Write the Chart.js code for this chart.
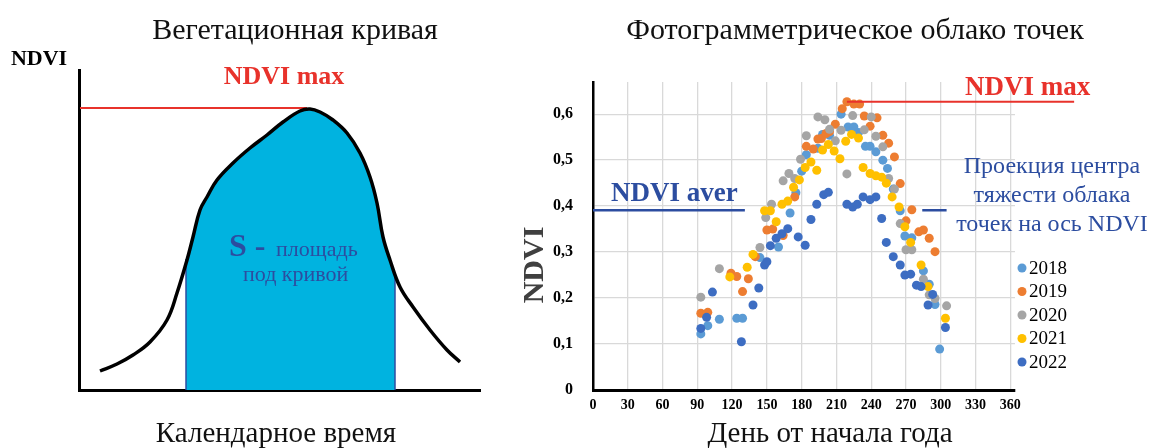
<!DOCTYPE html>
<html>
<head>
<meta charset="utf-8">
<script src="https://cdn.jsdelivr.net/npm/chart.js@4.4.1/dist/chart.umd.min.js"></script>
<style>
  html, body { margin: 0; padding: 0; background: #fff; }
  #wrap { position: relative; width: 1155px; height: 448px; overflow: hidden; font-family: 'Liberation Serif', serif; }
  canvas { position: absolute; left: 0; top: 0; }
  .cap { position: absolute; font-size: 29px; line-height: 29px; color: #111; white-space: nowrap; transform: translateX(-50%); }
  .cap.top { font-size: 30px; }
</style>
</head>
<body>
<div id="wrap">
  <canvas id="curveChart" width="1155" height="448"></canvas>
  <canvas id="cloudChart" width="1155" height="448"></canvas>
  <div class="cap top" style="left:295px; top:14px">Вегетационная кривая</div>
  <div class="cap top" style="left:855px; top:14px">Фотограмметрическое облако точек</div>
  <div class="cap" style="left:276px; top:418px">Календарное время</div>
  <div class="cap" style="left:830px; top:418px">День от начала года</div>
</div>
<script>
// left panel - schematic curve, arbitrary units
const curveTime = [21, 38, 54, 71, 88, 98, 108, 114, 121, 128, 138, 154, 171, 188, 204, 221, 231, 241, 254, 268, 281, 291, 298, 304, 311, 321, 334, 351, 368, 381];
const curveNdvi = [19, 26, 35, 48, 70, 97, 130, 153, 180, 193, 210, 227, 242, 255, 268, 279, 281, 278, 270, 257, 237, 213, 187, 153, 130, 103, 83, 60, 40, 28];
const areaFrom = 107;
const areaTo = 316;
const edgeTops = [131, 116];
const peakLevel = 282;
const peakLine = [1, 228];

// right panel - NDVI by day of year
const years = ['2018', '2019', '2020', '2021', '2022'];
const cloud2018 = [[93,0.122],[99,0.14],[109,0.154],[124,0.156],[129,0.156],[144,0.288],[160,0.311],[170,0.385],[175,0.429],[180,0.476],[184,0.512],[194,0.526],[198,0.556],[204,0.554],[214,0.6],[220,0.572],[225,0.572],[229,0.56],[235,0.53],[239,0.53],[244,0.518],[250,0.5],[254,0.482],[259,0.437],[265,0.39],[269,0.335],[275,0.331],[285,0.259],[290,0.23],[295,0.186],[299,0.089]];
const cloud2019 = [[93,0.167],[99,0.169],[119,0.254],[124,0.247],[129,0.214],[134,0.242],[140,0.29],[150,0.348],[155,0.35],[164,0.336],[174,0.42],[184,0.53],[190,0.524],[194,0.546],[197,0.547],[201,0.558],[204,0.562],[209,0.578],[215,0.612],[219,0.627],[225,0.622],[230,0.622],[234,0.596],[239,0.574],[245,0.592],[250,0.554],[255,0.537],[260,0.507],[265,0.449],[270,0.368],[275,0.392],[281,0.344],[285,0.348],[290,0.33],[295,0.301]];
const cloud2020 = [[93,0.202],[109,0.264],[144,0.31],[149,0.375],[154,0.404],[164,0.455],[169,0.471],[174,0.46],[179,0.502],[184,0.553],[194,0.594],[200,0.588],[204,0.567],[209,0.542],[214,0.565],[219,0.47],[224,0.597],[234,0.566],[240,0.594],[244,0.552],[250,0.529],[255,0.46],[260,0.437],[265,0.362],[270,0.305],[275,0.305],[285,0.241],[290,0.207],[295,0.199],[305,0.183]];
const cloud2021 = [[118,0.246],[133,0.267],[138,0.295],[148,0.39],[153,0.39],[158,0.366],[163,0.404],[168,0.411],[173,0.441],[178,0.457],[183,0.484],[188,0.496],[193,0.478],[198,0.522],[203,0.534],[208,0.52],[213,0.503],[218,0.541],[223,0.556],[229,0.548],[233,0.484],[239,0.471],[244,0.466],[249,0.463],[253,0.45],[258,0.42],[264,0.398],[269,0.355],[274,0.321],[283,0.272],[289,0.225],[304,0.156]];
const cloud2022 = [[93,0.134],[98,0.158],[103,0.213],[128,0.105],[138,0.185],[143,0.222],[148,0.272],[150,0.279],[153,0.314],[158,0.33],[163,0.34],[168,0.351],[177,0.333],[183,0.315],[188,0.371],[193,0.404],[199,0.425],[203,0.43],[219,0.404],[224,0.398],[228,0.404],[233,0.42],[239,0.414],[244,0.42],[249,0.373],[253,0.321],[259,0.29],[265,0.272],[269,0.25],[274,0.252],[279,0.228],[283,0.225],[289,0.185],[293,0.208],[304,0.136]];
const averNdvi = 0.391;
const averDays = [0, 131];
const averMarkDays = [284, 305];
const maxNdvi = 0.627;
const maxDays = [219, 415];

const yearColors = ['#5B9BD5', '#ED7D31', '#A5A5A5', '#FFC000', '#3D6DC2'];
const blue = '#2C4DA0';
const red = '#E8322B';
const cyan = '#00B3E0';
const serif = 'Liberation Serif';

// plain text on top of a chart, page pixel coords
function textPlugin(id, items) {
  return {
    id: id,
    afterDraw(chart) {
      const ctx = chart.ctx;
      items.forEach(n => {
        ctx.save();
        ctx.font = n.font;
        ctx.fillStyle = n.color;
        ctx.textAlign = n.align || 'left';
        ctx.textBaseline = n.baseline || 'alphabetic';
        ctx.translate(n.x, n.y);
        if (n.rotate) ctx.rotate(n.rotate);
        ctx.fillText(n.text, 0, 0);
        ctx.restore();
      });
    }
  };
}

// fill under the curve only between areaFrom and areaTo (hard-stop gradient)
function areaFill(c) {
  const chart = c.chart;
  const area = chart.chartArea;
  if (!area) return 'rgba(0,0,0,0)';
  const xs = chart.scales.x;
  const w = area.right - area.left;
  const f1 = (xs.getPixelForValue(areaFrom) - area.left) / w;
  const f2 = (xs.getPixelForValue(areaTo) - area.left) / w;
  const g = chart.ctx.createLinearGradient(area.left, 0, area.right, 0);
  g.addColorStop(0, 'rgba(0,179,224,0)');
  g.addColorStop(f1, 'rgba(0,179,224,0)');
  g.addColorStop(f1, cyan);
  g.addColorStop(f2, cyan);
  g.addColorStop(f2, 'rgba(0,179,224,0)');
  g.addColorStop(1, 'rgba(0,179,224,0)');
  return g;
}

const curvePts = curveTime.map((t, i) => ({ x: t, y: curveNdvi[i] }));

new Chart(document.getElementById('curveChart'), {
  type: 'line',
  data: {
    datasets: [
      { data: curvePts, borderColor: '#000', borderWidth: 3.5, pointRadius: 0, tension: 0.4, fill: 'origin', backgroundColor: areaFill, order: 0 },
      { data: peakLine.map(t => ({ x: t, y: peakLevel })), borderColor: red, borderWidth: 2, pointRadius: 0, order: 1 },
      { data: [{ x: areaFrom, y: 0 }, { x: areaFrom, y: edgeTops[0] }], borderColor: blue, borderWidth: 1.5, pointRadius: 0, order: 2 },
      { data: [{ x: areaTo, y: 0 }, { x: areaTo, y: edgeTops[1] }], borderColor: blue, borderWidth: 1.5, pointRadius: 0, order: 2 }
    ]
  },
  options: {
    responsive: false,
    animation: false,
    layout: { padding: { left: 79, top: 70, right: 675, bottom: 58 } },
    plugins: { legend: { display: false }, tooltip: { enabled: false }, filler: { drawTime: 'beforeDatasetsDraw' } },
    scales: {
      x: {
        type: 'linear', min: 0, max: 401,
        afterFit: s => { s.height = 0; },
        ticks: { display: false },
        grid: { display: false, drawTicks: false },
        border: { color: '#000', width: 3 }
      },
      y: {
        min: 0, max: 320,
        afterFit: s => { s.width = 0; },
        ticks: { display: false },
        grid: { display: false, drawTicks: false },
        border: { color: '#000', width: 3 }
      }
    }
  },
  plugins: [textPlugin('curveText', [
    { text: 'NDVI', x: 39, y: 65, font: 'bold 22px ' + serif, color: '#000', align: 'center' },
    { text: 'NDVI max', x: 284, y: 84, font: 'bold 26px ' + serif, color: red, align: 'center' },
    { text: 'S -', x: 229, y: 256, font: 'bold 32px ' + serif, color: blue },
    { text: 'площадь', x: 276, y: 256, font: '22px ' + serif, color: blue },
    { text: 'под кривой', x: 243, y: 281, font: '22px ' + serif, color: blue }
  ])]
});

const clouds = [cloud2018, cloud2019, cloud2020, cloud2021, cloud2022];
const cloudSets = clouds.map((c, i) => ({
  label: years[i],
  data: c.map(p => ({ x: p[0], y: p[1] })),
  backgroundColor: yearColors[i],
  borderWidth: 0,
  pointRadius: 4.5,
  order: 5 - i
}));

const lineSet = (days, level, color, width) => ({
  data: days.map(d => ({ x: d, y: level })),
  showLine: true, borderColor: color, borderWidth: width,
  pointRadius: 0, clip: false, order: 0
});

const cloudLegend = {
  id: 'cloudLegend',
  afterDraw(chart) {
    const ctx = chart.ctx;
    ctx.save();
    ctx.font = '19px ' + serif;
    ctx.textBaseline = 'middle';
    years.forEach((y, i) => {
      const cy = 268 + i * 23.5;
      ctx.fillStyle = yearColors[i];
      ctx.beginPath();
      ctx.arc(1022, cy, 4.5, 0, Math.PI * 2);
      ctx.fill();
      ctx.fillStyle = '#000';
      ctx.fillText(y, 1029, cy + 1);
    });
    ctx.restore();
  }
};

new Chart(document.getElementById('cloudChart'), {
  type: 'scatter',
  data: {
    datasets: cloudSets.concat([
      lineSet(averDays, averNdvi, blue, 2.5),
      lineSet(averMarkDays, averNdvi, blue, 2.5),
      lineSet(maxDays, maxNdvi, red, 2)
    ])
  },
  options: {
    responsive: false,
    animation: false,
    layout: { padding: { left: 500, top: 82, right: 140, bottom: 0 } },
    plugins: { legend: { display: false }, tooltip: { enabled: false } },
    scales: {
      x: {
        type: 'linear', min: 0, max: 364,
        afterFit: s => { s.height = 58; },
        ticks: { stepSize: 30, includeBounds: false, padding: 7, color: '#000', font: { family: serif, size: 14, weight: 'bold' } },
        grid: { color: '#D9D9D9', lineWidth: 1.3, drawTicks: false },
        border: { color: '#000', width: 3 }
      },
      y: {
        min: 0, max: 0.67,
        afterFit: s => { s.width = 93; },
        ticks: {
          stepSize: 0.1, includeBounds: false, padding: 20, color: '#000',
          font: { family: serif, size: 16, weight: 'bold' },
          callback: v => v === 0 ? '0' : v.toFixed(1).replace('.', ',')
        },
        grid: { color: '#D9D9D9', lineWidth: 1.3, drawTicks: false },
        border: { color: '#000', width: 2.5 }
      }
    }
  },
  plugins: [cloudLegend, textPlugin('cloudText', [
    { text: 'NDVI', x: 535, y: 265, font: 'bold 30px ' + serif, color: '#404040', align: 'center', baseline: 'middle', rotate: -Math.PI / 2 },
    { text: 'NDVI aver', x: 611, y: 201, font: 'bold 27px ' + serif, color: blue },
    { text: 'NDVI max', x: 965, y: 95, font: 'bold 27px ' + serif, color: red },
    { text: 'Проекция центра', x: 1052, y: 173, font: '24px ' + serif, color: blue, align: 'center' },
    { text: 'тяжести облака', x: 1052, y: 202, font: '24px ' + serif, color: blue, align: 'center' },
    { text: 'точек на ось NDVI', x: 1052, y: 231, font: '24px ' + serif, color: blue, align: 'center' }
  ])]
});
</script>
</body>
</html>
